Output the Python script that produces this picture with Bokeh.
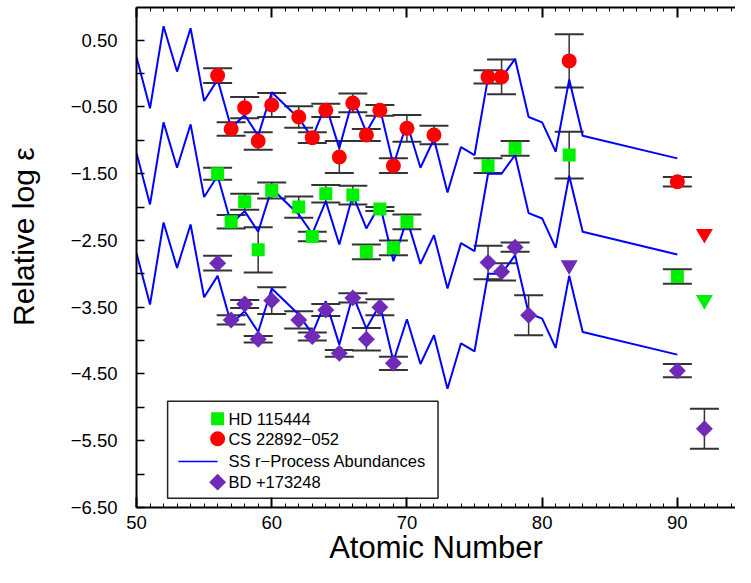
import math
from bokeh.plotting import figure
from bokeh.models import (Range1d, FixedTicker, LinearAxis, Whisker, ColumnDataSource, TeeHead)
from bokeh.core.properties import value
from bokeh.embed import file_html
from bokeh.resources import INLINE

FONT = "Liberation Sans"

# ---------------- data ----------------
ss_z = [50, 51, 52, 53, 54, 55, 56, 57, 58, 59, 60, 62, 63, 64, 65, 66, 67, 68, 69, 70,
        71, 72, 73, 74, 75, 76, 77, 78, 79, 80, 81, 82, 83, 90]
ss_cs = [0.25, -0.52, 0.71, 0.03, 0.68, -0.41, -0.09, -0.81, -0.62, -0.93, -0.28, -0.67,
         -0.96, -0.47, -1.12, -0.38, -0.88, -0.52, -1.37, -0.74, -1.41, -0.98, -1.78,
         -1.10, -1.22, -0.06, -0.06, 0.22, -0.65, -0.73, -1.17, -0.09, -0.93, -1.27]
ss_hd = [-1.19, -1.96, -0.73, -1.41, -0.76, -1.85, -1.53, -2.25, -2.06, -2.37, -1.72, -2.11,
         -2.40, -1.91, -2.56, -1.82, -2.32, -1.96, -2.81, -2.18, -2.85, -2.42, -3.22,
         -2.54, -2.66, -1.50, -1.50, -1.22, -2.09, -2.17, -2.61, -1.53, -2.37, -2.71]
ss_bd = [-2.69, -3.46, -2.23, -2.91, -2.26, -3.35, -3.03, -3.75, -3.56, -3.87, -3.22, -3.61,
         -3.90, -3.41, -4.06, -3.32, -3.82, -3.46, -4.31, -3.68, -4.35, -3.92, -4.72,
         -4.04, -4.16, -3.00, -3.00, -2.72, -3.59, -3.67, -4.11, -3.03, -3.87, -4.21]

cs_z = [56, 57, 58, 59, 60, 62, 63, 64, 65, 66, 67, 68, 69, 70, 72, 76, 77, 82, 90]
cs_val = [-0.03, -0.83, -0.51, -1.01, -0.47, -0.65, -0.96, -0.55, -1.25, -0.44, -0.92,
          -0.55, -1.38, -0.82, -0.92, -0.05, -0.05, 0.19, -1.62]
cs_err = [0.11, 0.10, 0.16, 0.13, 0.18, 0.16, 0.08, 0.10, 0.24, 0.14, 0.09, 0.08, 0.11,
          0.20, 0.14, 0.10, 0.26, 0.40, 0.07]

hd_z = [56, 57, 58, 59, 60, 62, 63, 64, 66, 67, 68, 69, 70, 76, 78, 82, 90]
hd_val = [-1.50, -2.22, -1.92, -2.64, -1.75, -2.00, -2.44, -1.80, -1.82, -2.67, -2.03,
          -2.61, -2.22, -1.38, -1.12, -1.22, -3.04]
hd_err = [0.09, 0.10, 0.12, 0.34, 0.12, 0.16, 0.07, 0.13, 0.14, 0.11, 0.03, 0.11, 0.11,
          0.11, 0.11, 0.35, 0.11]

bd_z = [56, 57, 58, 59, 60, 62, 63, 64, 65, 66, 67, 68, 69, 76, 77, 78, 79, 90, 92]
bd_val = [-2.84, -3.69, -3.45, -3.98, -3.40, -3.69, -3.94, -3.54, -4.19, -3.36, -3.98,
          -3.50, -4.34, -2.83, -2.97, -2.60, -3.62, -4.45, -5.32]
bd_err = [0.11, 0.07, 0.06, 0.05, 0.20, 0.13, 0.06, 0.09, 0.05, 0.07, 0.17, 0.12, 0.10,
          0.25, 0.13, 0.07, 0.30, 0.10, 0.30]

# upper limits (downward triangles)
cs_lim_z = [92]
cs_lim_val = [-2.40]
hd_lim_z = [92]
hd_lim_val = [-3.39]
bd_lim_z = [82]
bd_lim_val = [-2.87]

y_major = [0.5, -0.5, -1.5, -2.5, -3.5, -4.5, -5.5, -6.5]
y_minor = [0.0, -1.0, -2.0, -3.0, -4.0, -5.0, -6.0]
x_major = [50, 60, 70, 80, 90]
x_minor = list(range(50, 95))

legend_labels = ["HD 115444", "CS 22892\u2212052", "SS r\u2212Process Abundances", "BD +173248"]

RED = "#FF0000"
GREEN = "#00F000"
BLUE = "#0000FF"
PURPLE = "#6F2BB8"
ERR = "#333333"

# ---------------- figure ----------------
p = figure(width=735, height=567, x_range=Range1d(50, 94.3), y_range=Range1d(-6.5, 0.99),
           output_backend="svg", toolbar_location=None,
           min_border_left=136, min_border_right=0, min_border_top=7, min_border_bottom=56)
p.outline_line_color = None
p.xgrid.visible = False
p.ygrid.visible = False
p.background_fill_color = "white"
p.border_fill_color = "white"

xt = FixedTicker(ticks=x_major, minor_ticks=x_minor)
yt = FixedTicker(ticks=y_major, minor_ticks=y_minor)

def fmt(v):
    s = "%.2f" % abs(v)
    return ("\u2212" + s) if v < 0 else s

xa = p.xaxis[0]
xa.ticker = xt
xa.axis_line_width = 2
xa.major_tick_in = 10
xa.major_tick_out = 0
xa.minor_tick_in = 4
xa.minor_tick_out = 0
xa.major_tick_line_width = 2
xa.minor_tick_line_width = 1
xa.major_label_standoff = 8
xa.major_label_text_font = FONT
xa.major_label_text_font_size = "18.5px"
xa.major_label_text_color = "black"
xa.axis_label = "Atomic Number"
xa.axis_label_text_font = FONT
xa.axis_label_text_font_size = "31px"
xa.axis_label_text_font_style = "normal"
xa.axis_label_text_color = "black"
xa.axis_label_standoff = -2

ya = p.yaxis[0]
ya.ticker = yt
ya.axis_line_width = 2
ya.major_tick_in = 8
ya.major_tick_out = 0
ya.minor_tick_in = 8
ya.minor_tick_out = 0
ya.major_tick_line_width = 1.5
ya.minor_tick_line_width = 1.5
ya.major_label_standoff = 19
ya.major_label_text_font = FONT
ya.major_label_text_font_size = "18.5px"
ya.major_label_text_color = "black"
ya.major_label_overrides = {v: fmt(v) for v in y_major}
ya.axis_label = "\u00a0" * 5 + "Relative log \u03b5"
ya.axis_label_text_font = FONT
ya.axis_label_text_font_size = "30px"
ya.axis_label_text_font_style = "normal"
ya.axis_label_text_color = "black"
ya.axis_label_standoff = 28

top = LinearAxis(ticker=xt, axis_line_width=2, major_tick_in=10, major_tick_out=0,
                 minor_tick_in=4, minor_tick_out=0, major_tick_line_width=2,
                 minor_tick_line_width=1, major_label_text_font_size="1px",
                 major_label_overrides={t: "" for t in x_major},
                 major_label_standoff=0)
p.add_layout(top, "above")

# ---------------- SS r-process curves ----------------
for ys in (ss_cs, ss_hd, ss_bd):
    p.line(ss_z, ys, line_color=BLUE, line_width=2)

# ---------------- error bars ----------------
def add_err(z, v, e):
    src = ColumnDataSource(dict(x=z, lo=[a - b for a, b in zip(v, e)], hi=[a + b for a, b in zip(v, e)]))
    w = Whisker(base="x", lower="lo", upper="hi", source=src, dimension="height",
                line_color=ERR, line_width=1.5,
                upper_head=TeeHead(size=29, line_color=ERR, line_width=2),
                lower_head=TeeHead(size=29, line_color=ERR, line_width=2))
    p.add_layout(w)

add_err(cs_z, cs_val, cs_err)
add_err(hd_z, hd_val, hd_err)
add_err(bd_z, bd_val, bd_err)

# ---------------- data points ----------------
p.scatter(cs_z, cs_val, marker="circle", size=15, fill_color=RED, line_color=None)
p.scatter(hd_z, hd_val, marker="square", size=13, fill_color=GREEN, line_color=None)
p.scatter(bd_z, bd_val, marker="square", size=12, angle=math.pi / 4, fill_color=PURPLE, line_color=None)
p.scatter(cs_lim_z, cs_lim_val, marker="inverted_triangle", size=17, fill_color=RED, line_color=None)
p.scatter(hd_lim_z, hd_lim_val, marker="inverted_triangle", size=17, fill_color=GREEN, line_color=None)
p.scatter(bd_lim_z, bd_lim_val, marker="inverted_triangle", size=17, fill_color=PURPLE, line_color=None)

# ---------------- legend (drawn in plot coordinates) ----------------
lg_left, lg_right, lg_top, lg_bottom = 52.30, 72.30, -4.91, -6.36
lg_rows = [-5.17, -5.47, -5.81, -6.12]
lg_mark_x = 56.0
lg_line_x0 = 53.1
lg_text_x = 56.8
p.quad(left=[lg_left], right=[lg_right], top=[lg_top], bottom=[lg_bottom],
       fill_color="white", line_color="#222222", line_width=1.5)
p.scatter([lg_mark_x], [lg_rows[0]], marker="square", size=13, fill_color=GREEN, line_color=None)
p.scatter([lg_mark_x], [lg_rows[1]], marker="circle", size=15, fill_color=RED, line_color=None)
p.line([lg_line_x0, lg_mark_x], [lg_rows[2], lg_rows[2]], line_color=BLUE, line_width=1.5)
p.scatter([lg_mark_x], [lg_rows[3]], marker="square", size=12, angle=math.pi / 4,
          fill_color=PURPLE, line_color=None)
p.text([lg_text_x] * 4, lg_rows, text=legend_labels, text_font=value(FONT),
       text_font_size="16.5px", text_baseline="middle", text_align="left", text_color="black")

open("out.html", "w").write(file_html(p, INLINE))
